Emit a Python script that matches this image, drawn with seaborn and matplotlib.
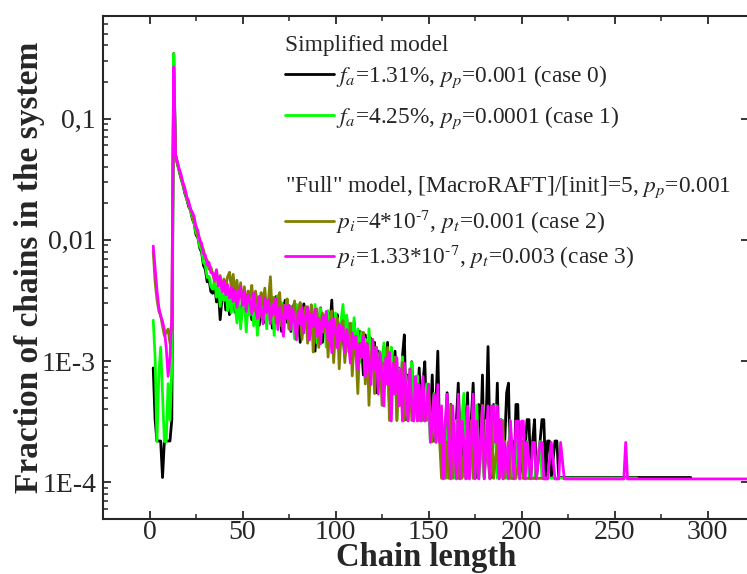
import matplotlib
matplotlib.use("Agg")
import matplotlib.pyplot as plt
from matplotlib.lines import Line2D
from matplotlib.ticker import FixedLocator, FixedFormatter, MultipleLocator, LogLocator, NullFormatter
import numpy as np
import pandas as pd
import seaborn as sns

# ---------------- data (chain counts) ----------------
FIRST_LENGTH = 2  # chain length of the first entry of every *_counts list

black_total = 9100
black_counts = [
    8, 3, 2, 2, 2, 1, 2, 2, 2, 2, 3,
    3120,
    455, 385, 335, 290, 258, 220, 198, 172, 160, 136,
    124, 100, 95, 78, 72, 56, 52, 41, 43, 34,
    33, 40, 28, 35, 20, 31, 36, 24, 32, 22,
    30, 36, 23, 31, 26, 19, 29, 34, 22, 30,
    26, 20, 33, 24, 29, 18, 27, 32, 19, 28,
    23, 30, 17, 26, 31, 20, 27, 16, 25, 29,
    19, 26, 16, 24, 28, 17, 23, 13, 22, 27,
    18, 24, 14, 22, 19, 11, 21, 16, 25, 13,
    20, 15, 23, 17, 29, 13, 19, 22, 11, 18,
    15, 10, 21, 13, 17, 9, 19, 12, 8, 16,
    12, 7, 15, 10, 6, 14, 9, 13, 5, 11,
    9, 5, 12, 7, 13, 4, 10, 6, 11, 5,
    8, 4, 10, 15, 3, 7, 5, 9, 3, 6,
    4, 8, 3, 6, 9, 3, 5, 3, 7, 2,
    4, 11, 2, 3, 1, 2, 5,
]
black_tail = [
    (161, 2), (162, 4), (163, 1), (165, 3), (166, 6), (167, 2), (168, 1), (169, 4),
    (170, 2), (171, 5), (172, 1), (173, 3), (174, 6), (175, 2), (176, 1), (177, 4),
    (178, 2), (179, 7), (180, 1), (181, 3), (182, 12), (183, 2), (184, 1), (185, 4),
    (186, 2), (187, 6), (188, 1), (189, 3), (190, 1), (191, 2), (192, 5), (193, 6),
    (194, 1), (195, 2), (196, 1), (197, 4), (198, 4), (199, 1), (200, 2), (201, 1),
    (203, 3), (204, 3), (205, 1), (206, 2), (207, 3), (208, 1), (210, 2), (211, 3),
    (212, 3), (213, 1), (214, 2), (215, 2), (216, 1), (218, 2), (219, 2), (220, 1),
    (222, 1), (291, 1),
]

green_total = 9200
green_counts = [
    20, 10, 2, 7, 12, 5, 2, 2, 6, 3, 8,
    3150,
    462, 392, 338, 300, 262, 228, 200, 180, 160, 142,
    126, 105, 98, 81, 76, 60, 57, 45, 46, 38,
    36, 44, 31, 39, 26, 35, 29, 37, 24, 33,
    23, 32, 27, 19, 31, 17, 26, 30, 16, 28,
    22, 32, 18, 28, 15, 25, 33, 20, 29, 17,
    27, 21, 31, 15, 25, 32, 19, 28, 16, 24,
    30, 17, 26, 21, 14, 27, 20, 28, 15, 23,
    19, 26, 14, 24, 17, 27, 13, 21, 25, 16,
    22, 12, 24, 16, 21, 13, 23, 18, 14, 20,
    27, 16, 22, 11, 19, 14, 21, 10, 17, 9,
    16, 11, 14, 7, 17, 10, 13, 6, 12, 8,
    11, 6, 13, 8, 10, 4, 12, 7, 9, 3,
    8, 5, 10, 4, 7, 3, 6, 9, 3, 5,
    7, 3, 3, 5, 3, 6, 4, 2, 3, 5,
    2, 4, 2, 3, 1,
]
green_tail = [
    (159, 3), (160, 1), (161, 4), (162, 2), (164, 1), (165, 3), (166, 1), (167, 2),
    (169, 5), (170, 1), (171, 2), (172, 1), (174, 3), (175, 1), (176, 4), (177, 1),
    (178, 2), (180, 1), (181, 3), (182, 2), (183, 1), (185, 2), (186, 4), (187, 1),
    (188, 2), (189, 3), (190, 1), (191, 2), (192, 1), (194, 3), (195, 1), (196, 1),
    (198, 2), (199, 1), (201, 1), (203, 2), (204, 1), (207, 1), (210, 2), (211, 1),
    (213, 1), (216, 1), (262, 1),
]

olive_total = 9250
olive_counts = [
    75, 42, 30, 24, 22, 18, 15, 16, 17, 13, 20,
    2400,
    458, 395, 345, 305, 268, 236, 205, 186, 168, 150,
    130, 121, 100, 95, 81, 77, 65, 63, 53, 55,
    48, 42, 52, 39, 47, 36, 44, 38, 46, 50,
    37, 48, 33, 43, 30, 41, 27, 38, 25, 35,
    31, 39, 24, 35, 28, 21, 34, 27, 37, 23,
    30, 46, 22, 31, 19, 29, 34, 18, 27, 24,
    30, 17, 26, 21, 29, 15, 24, 28, 14, 23,
    26, 13, 21, 27, 11, 20, 25, 12, 19, 23,
    16, 22, 10, 19, 24, 9, 17, 21, 8, 16,
    20, 9, 15, 12, 19, 7, 14, 11, 5, 13,
    11, 16, 6, 13, 4, 10, 14, 5, 12, 7,
    10, 4, 9, 6, 12, 3, 8, 5, 10, 3,
    7, 4, 9, 3, 6, 3, 8, 3, 3, 5,
    6, 3, 5, 3, 4, 3, 6, 3, 2, 4,
    2, 3, 2, 1, 2,
]
olive_tail = [
    (159, 1), (160, 2), (161, 1), (162, 4), (163, 1), (164, 2), (166, 1), (167, 3),
    (168, 1), (170, 2), (171, 1), (173, 3), (174, 1), (176, 2), (177, 1), (179, 4),
    (180, 1), (181, 2), (183, 1), (184, 3), (185, 1), (187, 2), (188, 1), (190, 3),
    (191, 1), (193, 2), (194, 1), (197, 1), (200, 2), (201, 1), (205, 1), (209, 1),
    (213, 1),
]

magenta_total = 9350
magenta_counts = [
    83, 55, 36, 26, 22, 20, 17, 12, 7, 10, 22,
    2490,
    470, 412, 356, 322, 276, 250, 212, 196, 168, 158,
    146, 118, 112, 92, 88, 72, 70, 58, 61, 50,
    50, 44, 53, 39, 46, 35, 43, 33, 40, 31,
    38, 29, 36, 26, 34, 38, 27, 35, 24, 33,
    29, 23, 34, 26, 21, 32, 25, 19, 31, 24,
    30, 19, 27, 23, 31, 17, 26, 22, 15, 27,
    21, 27, 17, 25, 20, 14, 24, 19, 26, 16,
    22, 26, 14, 23, 18, 25, 15, 21, 13, 22,
    18, 24, 14, 20, 11, 21, 17, 12, 19, 14,
    18, 11, 17, 13, 9, 16, 12, 15, 8, 13,
    10, 15, 7, 13, 9, 6, 14, 8, 12, 5,
    11, 7, 4, 10, 6, 11, 3, 9, 5, 10,
    4, 8, 3, 9, 5, 3, 8, 4, 3, 7,
    3, 6, 3, 7, 3, 4, 6, 2, 3, 5,
    2, 6, 2, 4, 1, 3, 5,
]
magenta_tail = [
    (161, 2), (162, 1), (163, 4), (164, 2), (165, 1), (166, 5), (167, 1), (168, 3),
    (169, 2), (170, 1), (171, 4), (172, 1), (173, 2), (174, 5), (175, 1), (176, 3),
    (177, 1), (178, 2), (179, 4), (180, 1), (181, 2), (182, 4), (183, 1), (184, 4),
    (185, 4), (186, 2), (187, 4), (188, 1), (189, 3), (190, 1), (191, 2), (193, 1),
    (194, 3), (196, 1), (197, 3), (198, 3), (199, 1), (200, 3), (201, 3), (202, 1),
    (203, 2), (205, 1), (206, 2), (207, 2), (208, 1), (210, 2), (211, 2), (212, 1),
    (214, 1), (216, 2), (218, 1), (220, 1), (221, 2), (223, 1), (255, 1), (256, 2),
    (257, 1), (330, 1),
]

series_names = ["case 0", "case 1", "case 2", "case 3"]
series_colors = ["#000000", "#00ff00", "#808000", "#ff00ff"]
legend_labels = [
    r"$f_a$=1.31%, $p_p$=0.001 (case 0)",
    r"$f_a$=4.25%, $p_p$=0.0001 (case 1)",
    r"$p_i$=4*10$^{\text{-}7}$, $p_t$=0.001 (case 2)",
    r"$p_i$=1.33*10$^{\text{-}7}$, $p_t$=0.003 (case 3)",
]
legend_titles = ["Simplified model", "\"Full\" model, [MacroRAFT]/[init]=5, $p_p$=0.001"]
x_tick_values = [0, 50, 100, 150, 200, 250, 300]
y_tick_values = [1e-4, 1e-3, 1e-2, 1e-1]
y_tick_labels = ["1E-4", "1E-3", "0,01", "0,1"]


def build(name, counts, tail, total):
    lengths = list(range(FIRST_LENGTH, FIRST_LENGTH + len(counts))) + [t[0] for t in tail]
    values = list(counts) + [t[1] for t in tail]
    return pd.DataFrame({"length": lengths,
                         "fraction": np.asarray(values, dtype=float) / total,
                         "series": name})


df = pd.concat([
    build("case 0", black_counts, black_tail, black_total),
    build("case 1", green_counts, green_tail, green_total),
    build("case 2", olive_counts, olive_tail, olive_total),
    build("case 3", magenta_counts, magenta_tail, magenta_total),
], ignore_index=True)

# ---------------- style ----------------
sns.set_style("ticks")
plt.rcParams["font.family"] = ["Liberation Serif", "DejaVu Serif"]
plt.rcParams["mathtext.fontset"] = "stix"
plt.rcParams["axes.linewidth"] = 1.5

W, H = 747, 574
fig = plt.figure(figsize=(W / 100, H / 100), dpi=100)
ax = fig.add_axes([103 / W, 1 - 519 / H, 646 / W, 503 / H])

sns.lineplot(data=df, x="length", y="fraction", hue="series",
             hue_order=series_names, palette=dict(zip(series_names, series_colors)),
             estimator=None, sort=False, legend=False, linewidth=2.0, ax=ax)

ax.set_yscale("log")
ax.set_xlim(-25, 322.3)
ax.set_ylim(5e-5, 0.7)

ax.xaxis.set_major_locator(FixedLocator(x_tick_values))
ax.xaxis.set_minor_locator(MultipleLocator(25))
ax.yaxis.set_major_locator(FixedLocator(y_tick_values))
ax.yaxis.set_major_formatter(FixedFormatter(y_tick_labels))
ax.yaxis.set_minor_locator(LogLocator(base=10, subs=np.arange(2, 10)))
ax.yaxis.set_minor_formatter(NullFormatter())

ax.tick_params(which="both", direction="in", top=True, right=True)
ax.tick_params(axis="y", which="minor", right=False)
ax.tick_params(which="major", length=6, width=1.3, labelsize=20)
ax.tick_params(axis="x", which="major", pad=0.5)
ax.tick_params(axis="y", which="major", pad=5)
ax.tick_params(which="minor", length=3.5, width=1.1)
for sp in ax.spines.values():
    sp.set_linewidth(1.5)

ax.set_xlabel("Chain length", fontsize=23.5, fontweight="bold")
ax.set_ylabel("Fraction of chains in the system", fontsize=24, fontweight="bold")
ax.xaxis.set_label_coords(0.5, -0.107)
ax.xaxis.label.set_va("bottom")
ax.yaxis.set_label_coords(-0.09, 0.5)

# legend: group headers as text, entries as two legends
fig.text(285 / W, 1 - 46 / H, legend_titles[0], fontsize=16.8, ha="left", va="center")
fig.text(285 / W, 1 - 187 / H, legend_titles[1], fontsize=16.8, ha="left", va="center")
handles = [Line2D([], [], color=c, linewidth=2.0) for c in series_colors]
common = dict(loc="upper left", frameon=False, fontsize=16.8,
              handlelength=2.1, handletextpad=0.1,
              borderpad=0, borderaxespad=0, bbox_transform=fig.transFigure)
leg1 = fig.legend(handles[:2], legend_labels[:2],
                  bbox_to_anchor=(285 / W, 1 - 64 / H), labelspacing=0.62, **common)
leg2 = fig.legend(handles[2:], legend_labels[2:],
                  bbox_to_anchor=(285 / W, 1 - 208 / H), labelspacing=0.28, **common)

fig.savefig("out.png", dpi=100)
